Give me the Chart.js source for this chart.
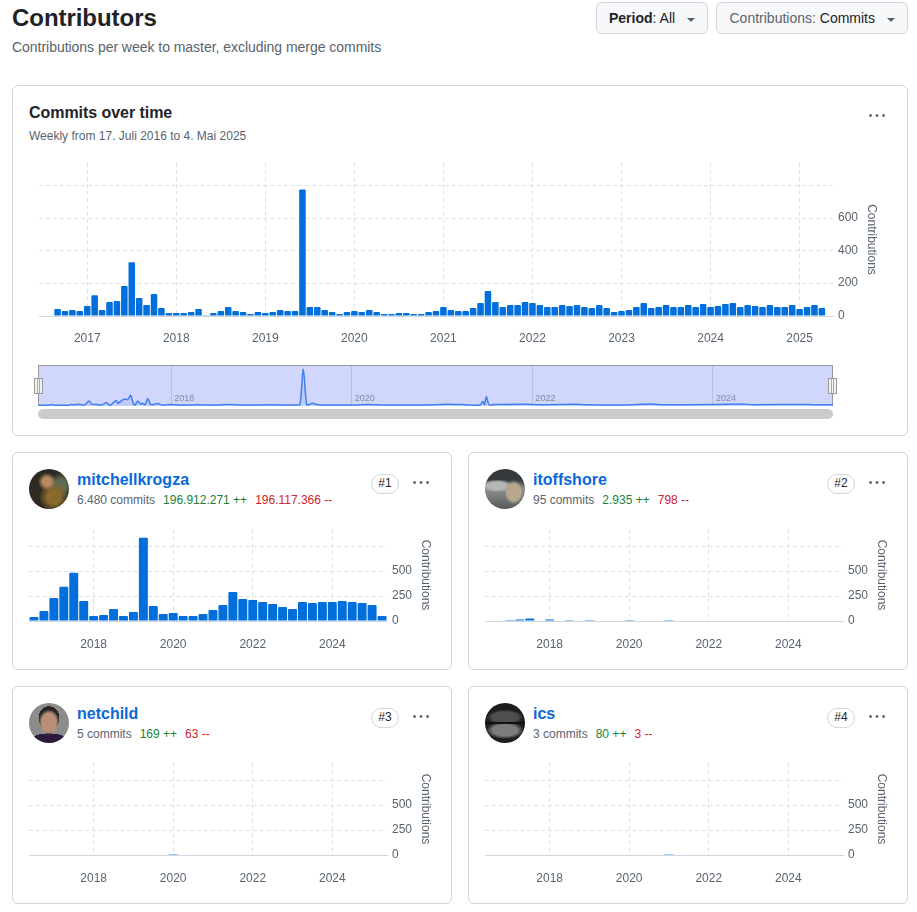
<!DOCTYPE html>
<html>
<head>
<meta charset="utf-8">
<script src="https://cdn.jsdelivr.net/npm/chart.js@4"></script>
<style>
  html, body { margin: 0; padding: 0; background: #fff; }
  body { width: 917px; height: 912px; position: relative; overflow: hidden;
         font-family: "Liberation Sans", sans-serif; color: #1f2328; }
  .abs, canvas { position: absolute; }
  .card { position: absolute; box-sizing: border-box; border: 1px solid #d0d7de; border-radius: 6px; }
  .btn { position: absolute; box-sizing: border-box; top: 2px; height: 32px; background: #f6f8fa;
         border: 1px solid #d0d7de; border-radius: 6px; font-size: 14px; line-height: 30px; white-space: nowrap; }
  .caret { position: absolute; top: 15px; width: 0; height: 0; border-left: 4px solid transparent;
           border-right: 4px solid transparent; border-top: 4px solid #59636e; }
  .kebab { position: absolute; width: 16px; height: 3px;
           background: radial-gradient(circle at 1.5px 1.5px, #59636e 1.2px, transparent 1.5px) 0 0 / 6.5px 3px repeat-x; }
  .name { position: absolute; font-size: 16px; font-weight: bold; color: #0969da; line-height: 20px; white-space: nowrap; }
  .stats { position: absolute; display: flex; gap: 8px; font-size: 12px; line-height: 16px; color: #59636e; white-space: nowrap; }
  .add { color: #1a7f37; } .del { color: #d1242f; }
  .rank { position: absolute; box-sizing: border-box; width: 28px; height: 20px; border: 1px solid #d0d7de;
          border-radius: 10px; font-size: 12px; line-height: 17px; text-align: center; color: #1f2328; }
  .avatar { position: absolute; width: 40px; height: 40px; border-radius: 50%; }
  .handle { position: absolute; box-sizing: border-box; width: 9px; height: 16px; top: 378px; background: #f2f2f2; border: 1px solid #999;
            background-image: linear-gradient(90deg, transparent 2px, #aaa 2px, #aaa 3px, transparent 3px, transparent 4px, #aaa 4px, #aaa 5px, transparent 5px); }
</style>
</head>
<body>
<div class="abs" style="left:12px;top:3px;font-size:24px;font-weight:bold;line-height:30px;letter-spacing:-0.05px">Contributors</div>
<div class="abs" style="left:12px;top:38px;font-size:14px;line-height:18px;color:#59636e;letter-spacing:-0.035px">Contributions per week to master, excluding merge commits</div>
<div class="btn" style="left:596px;width:112px;padding-left:12px"><b>Period</b>: All<span class="caret" style="left:90px"></span></div>
<div class="btn" style="left:716px;width:192px;padding-left:12.5px"><span style="color:#59636e">Contributions:</span> Commits<span class="caret" style="left:170px"></span></div>

<div class="card" style="left:12px;top:85px;width:896px;height:351px"></div>
<div class="abs" style="left:29px;top:103px;font-size:16px;font-weight:bold;line-height:20px;letter-spacing:-0.05px">Commits over time</div>
<div class="abs" style="left:29px;top:128px;font-size:12px;line-height:16px;color:#59636e">Weekly from 17. Juli 2016 to 4. Mai 2025</div>
<div class="kebab" style="left:869px;top:114px"></div>
<canvas id="overview" style="left:29px;top:155px"></canvas>

<div class="abs" style="left:38px;top:365px;width:795px;height:41px;box-sizing:border-box;background:#d1d6fd;border:1px solid #999;border-bottom:none"></div>
<canvas id="navigator" style="left:38px;top:366px"></canvas>
<div class="handle" style="left:34px"></div>
<div class="handle" style="left:828px"></div>
<div class="abs" style="left:38px;top:409px;width:795px;height:10px;background:#cbcbcb;border-radius:5px"></div>

<div class="card" style="left:12px;top:452px;width:440px;height:218px"></div>
<div class="avatar" style="left:29px;top:469px;background:radial-gradient(circle at 45% 32%, #b98a62 0 12%, transparent 26%), radial-gradient(circle at 62% 70%, #8a6a2c 0 18%, transparent 40%), radial-gradient(circle at 80% 40%, #5f6a50 0 14%, transparent 32%), #2c2a22"></div>
<div class="name" style="left:77px;top:470px">mitchellkrogza</div>
<div class="stats" style="left:77px;top:492px"><span>6.480 commits</span><span class="add">196.912.271 ++</span><span class="del">196.117.366 --</span></div>
<div class="rank" style="left:371px;top:474px">#1</div>
<div class="kebab" style="left:413px;top:481px"></div>
<canvas id="c1" style="left:19px;top:522px"></canvas>

<div class="card" style="left:468px;top:452px;width:440px;height:218px"></div>
<div class="avatar" style="left:485px;top:469px;background:radial-gradient(ellipse 24% 30% at 72% 58%, #b5a68c 0 70%, transparent 100%), radial-gradient(ellipse 40% 16% at 30% 42%, #b4b7b4 0 60%, transparent 100%), linear-gradient(#34393d 0 26%, #8b8f8c 50%, #55595a)"></div>
<div class="name" style="left:533px;top:470px">itoffshore</div>
<div class="stats" style="left:533px;top:492px"><span>95 commits</span><span class="add">2.935 ++</span><span class="del">798 --</span></div>
<div class="rank" style="left:827px;top:474px">#2</div>
<div class="kebab" style="left:869px;top:481px"></div>
<canvas id="c2" style="left:475px;top:522px"></canvas>

<div class="card" style="left:12px;top:686px;width:440px;height:218px"></div>
<div class="avatar" style="left:29px;top:703px;background:radial-gradient(ellipse 34% 16% at 50% 100%, #2e1a3a 0 100%, transparent 100%), radial-gradient(ellipse 26% 32% at 50% 48%, #b98f78 0 70%, transparent 100%), radial-gradient(ellipse 26% 30% at 50% 38%, #2a2624 0 100%, transparent 100%), radial-gradient(ellipse 52% 24% at 50% 100%, #2e1a3a 0 100%, transparent 100%), #8c8c8c"></div>
<div class="name" style="left:77px;top:704px">netchild</div>
<div class="stats" style="left:77px;top:726px"><span>5 commits</span><span class="add">169 ++</span><span class="del">63 --</span></div>
<div class="rank" style="left:371px;top:708px">#3</div>
<div class="kebab" style="left:413px;top:715px"></div>
<canvas id="c3" style="left:19px;top:756px"></canvas>

<div class="card" style="left:468px;top:686px;width:440px;height:218px"></div>
<div class="avatar" style="left:485px;top:703px;background:linear-gradient(transparent 47%, #111 48% 52%, transparent 53%), radial-gradient(ellipse 48% 22% at 50% 68%, #7c7c7c 0 65%, transparent 100%), radial-gradient(ellipse 46% 20% at 50% 36%, #4e4e4e 0 70%, transparent 100%), #1c1c1c"></div>
<div class="name" style="left:533px;top:704px">ics</div>
<div class="stats" style="left:533px;top:726px"><span>3 commits</span><span class="add">80 ++</span><span class="del">3 --</span></div>
<div class="rank" style="left:827px;top:708px">#4</div>
<div class="kebab" style="left:869px;top:715px"></div>
<canvas id="c4" style="left:475px;top:756px"></canvas>

<script>
// Monthly commits, Jul 2016 to May 2025
const commits2016 = [3, 3, 43, 30, 37, 30];
const commits2017 = [61, 128, 37, 86, 92, 184, 330, 110, 67, 135, 49, 18];
const commits2018 = [18, 18, 24, 43, 4, 18, 30, 55, 30, 24, 12, 24];
const commits2019 = [18, 24, 37, 30, 30, 777, 55, 55, 37, 24, 12, 24];
const commits2020 = [30, 24, 37, 24, 12, 12, 18, 18, 12, 12, 24, 30];
const commits2021 = [55, 37, 30, 30, 49, 80, 153, 86, 55, 67, 67, 86];
const commits2022 = [80, 67, 55, 55, 67, 61, 67, 55, 49, 67, 49, 24];
const commits2023 = [30, 37, 55, 80, 49, 55, 67, 55, 55, 67, 55, 73];
const commits2024 = [55, 61, 73, 80, 55, 67, 61, 55, 67, 55, 55, 67];
const commits2025 = [43, 55, 67, 49, 0];

// Navigator line: decimal year and weekly value
const navYears = [2016.53, 2016.64, 2016.67, 2016.70, 2016.87, 2016.90, 2016.92, 2016.98, 2017.04, 2017.09, 2017.12, 2017.17,
  2017.23, 2017.28, 2017.32, 2017.39, 2017.41, 2017.47, 2017.52, 2017.55, 2017.58, 2017.60, 2017.63, 2017.66, 2017.68, 2017.71,
  2017.74, 2017.77, 2017.79, 2017.85, 2017.90, 2018.00, 2018.09, 2018.30, 2018.50, 2018.62, 2018.80, 2019.10, 2019.38, 2019.425,
  2019.462, 2019.50, 2019.53, 2019.56, 2019.62, 2019.80, 2020.02, 2020.18, 2020.40, 2020.90, 2021.07, 2021.30, 2021.42, 2021.45,
  2021.47, 2021.49, 2021.52, 2021.58, 2021.94, 2022.10, 2022.47, 2022.60, 2023.00, 2023.32, 2023.45, 2024.00, 2024.30, 2024.45,
  2025.03, 2025.10, 2025.33];
const navValues = [4, 4, 20, 6, 6, 25, 8, 25, 8, 85, 25, 20,
  8, 55, 5, 95, 40, 115, 115, 190, 35, 10, 85, 25, 40, 12,
  125, 20, 15, 35, 8, 18, 8, 14, 8, 18, 8, 12, 10, 14,
  684, 14, 18, 40, 12, 10, 10, 20, 8, 15, 25, 10, 8, 75,
  15, 170, 15, 20, 25, 15, 24, 14, 10, 26, 14, 16, 26, 15,
  20, 14, 14];
const navTicks = [2018, 2020, 2022, 2024];

// Per contributor quarterly commits, Q3 2016 to Q2 2025
const mitchellkrogza = [40, 100, 233, 345, 487, 203, 50, 60, 122, 50, 90, 842, 152, 70, 80, 50, 50, 70,
  110, 162, 294, 223, 213, 192, 172, 142, 122, 192, 182, 192, 192, 203, 192, 182, 162, 50];
const itoffshore = [0, 0, 1, 14, 26, 0, 14, 0, 1, 0, 1, 0, 0, 0, 1, 0, 0, 0,
  1, 0, 0, 0, 0, 0, 0, 0, 0, 0, 0, 0, 0, 0, 0, 0, 0, 0];
const netchild = [0, 0, 0, 0, 0, 0, 0, 0, 0, 0, 0, 0, 0, 0, 1, 0, 0, 0,
  0, 0, 0, 0, 0, 0, 0, 0, 0, 0, 0, 0, 0, 0, 0, 0, 0, 0];
const ics = [0, 0, 0, 0, 0, 0, 0, 0, 0, 0, 0, 0, 0, 0, 0, 0, 0, 0,
  1, 0, 0, 0, 0, 0, 0, 0, 0, 0, 0, 0, 0, 0, 0, 0, 0, 0];

const BLUE = "#006edb";
const GRID = "#dde1e8";
const AXIS = "#d0d7de";
const TEXT = "#59636e";

Chart.defaults.font.family = '"Liberation Sans", sans-serif';
Chart.defaults.font.size = 12;
Chart.defaults.color = TEXT;

// labels like "2017-01"
function monthLabels() {
  const out = [];
  let y = 2016, m = 7;
  while (y < 2025 || m <= 5) {
    out.push(`${y}-${String(m).padStart(2, "0")}`);
    m++;
    if (m > 12) { m = 1; y++; }
  }
  return out;
}

// labels like "2018-Q1"
function quarterLabels() {
  const out = [];
  let y = 2016, q = 3;
  while (y < 2025 || q <= 2) {
    out.push(`${y}-Q${q}`);
    q++;
    if (q > 4) { q = 1; y++; }
  }
  return out;
}

function barChart(id, o) {
  const el = document.getElementById(id);
  el.width = o.width;
  el.height = o.height;
  el.style.width = o.width + "px";
  el.style.height = o.height + "px";
  const xLabel = o.xLabel;
  return new Chart(el, {
    type: "bar",
    data: {
      labels: o.labels,
      datasets: [{
        data: o.data,
        backgroundColor: BLUE,
        barPercentage: o.barPct,
        categoryPercentage: 1,
        borderRadius: { topLeft: 1, topRight: 1 },
        borderSkipped: "bottom",
      }],
    },
    options: {
      responsive: false,
      animation: false,
      events: [],
      layout: { padding: { left: o.padLeft, top: o.padTop, right: 0, bottom: 0 } },
      plugins: { legend: { display: false }, tooltip: { enabled: false } },
      scales: {
        x: {
          offset: true,
          afterFit: (s) => { s.height = o.xHeight; },
          grid: {
            offset: false,
            drawTicks: false,
            color: (c) => (c.tick && xLabel(o.labels[c.tick.value]) ? GRID : "transparent"),
          },
          border: { display: true, color: AXIS, dash: [4, 3] },
          ticks: {
            autoSkip: false,
            maxRotation: 0,
            padding: o.xPad,
            callback: (v, i) => xLabel(o.labels[i]),
          },
        },
        y: {
          position: "right",
          min: 0,
          max: o.yMax,
          // tick labels would otherwise push the plot top down
          afterFit: (s) => { s.width = o.yWidth; s.paddingTop = 0; s.paddingBottom = 0; },
          title: { display: true, text: "Contributions", padding: { top: o.titlePad, bottom: 4 }, color: TEXT },
          grid: { drawTicks: false, color: GRID },
          border: { display: false, dash: (c) => (c.tick && c.tick.value === 0 ? [] : [4, 3]) },
          ticks: {
            stepSize: o.yStep,
            includeBounds: false,
            padding: 5,
            labelOffset: -0.5,
            callback: (v) => (v > o.yLastLabel ? "" : String(v)),
          },
        },
      },
    },
  });
}

barChart("overview", {
  labels: monthLabels(),
  data: [...commits2016, ...commits2017, ...commits2018, ...commits2019, ...commits2020,
    ...commits2021, ...commits2022, ...commits2023, ...commits2024, ...commits2025],
  xLabel: (l) => (l.endsWith("-01") ? l.slice(0, 4) : null),
  barPct: 0.88,
  width: 856, height: 195,
  padLeft: 10, padTop: 8,
  yWidth: 52, xHeight: 34,
  xPad: 15, titlePad: 6,
  yMax: 940, yStep: 200, yLastLabel: 600,
});

const evenYear = (l) => (l.endsWith("-Q1") && Number(l.slice(0, 4)) % 2 === 0 ? l.slice(0, 4) : null);
const people = { c1: mitchellkrogza, c2: itoffshore, c3: netchild, c4: ics };
for (const id in people) {
  barChart(id, {
    labels: quarterLabels(),
    data: people[id],
    xLabel: evenYear,
    barPct: 0.9,
    width: 421, height: 138,
    padLeft: 10, padTop: 7,
    yWidth: 53, xHeight: 39,
    xPad: 16, titlePad: 7.5,
    yMax: 930, yStep: 250, yLastLabel: 500,
  });
}

// Navigator strip under the big chart
const nav = document.getElementById("navigator");
nav.width = 795;
nav.height = 40;
nav.style.width = "795px";
nav.style.height = "40px";
new Chart(nav, {
  type: "line",
  data: {
    datasets: [{
      data: navYears.map((x, i) => ({ x, y: navValues[i] })),
      borderColor: "#3f7fee",
      borderWidth: 1.5,
      backgroundColor: "rgba(63,127,238,0.12)",
      fill: true,
      pointRadius: 0,
      tension: 0.3,
    }],
  },
  options: {
    responsive: false,
    animation: false,
    events: [],
    layout: { padding: 0 },
    plugins: { legend: { display: false }, tooltip: { enabled: false } },
    scales: {
      x: {
        type: "linear",
        min: 2016.524,
        max: 2025.33,
        afterFit: (s) => { s.height = 0; },
        afterBuildTicks: (s) => { s.ticks = navTicks.map((value) => ({ value })); },
        grid: { drawTicks: false, color: "#b9bfe3" },
        border: { display: false },
        ticks: {
          autoSkip: false,
          maxRotation: 0,
          mirror: true, // no clip on the label area, the axis has height 0
          align: "start",
          labelOffset: 3,
          padding: 2,
          color: "#8288ad",
          font: { size: 9 },
          callback: (v) => String(v),
        },
      },
      y: { display: false, min: -10, max: 740 },
    },
  },
});
</script>
</body>
</html>
